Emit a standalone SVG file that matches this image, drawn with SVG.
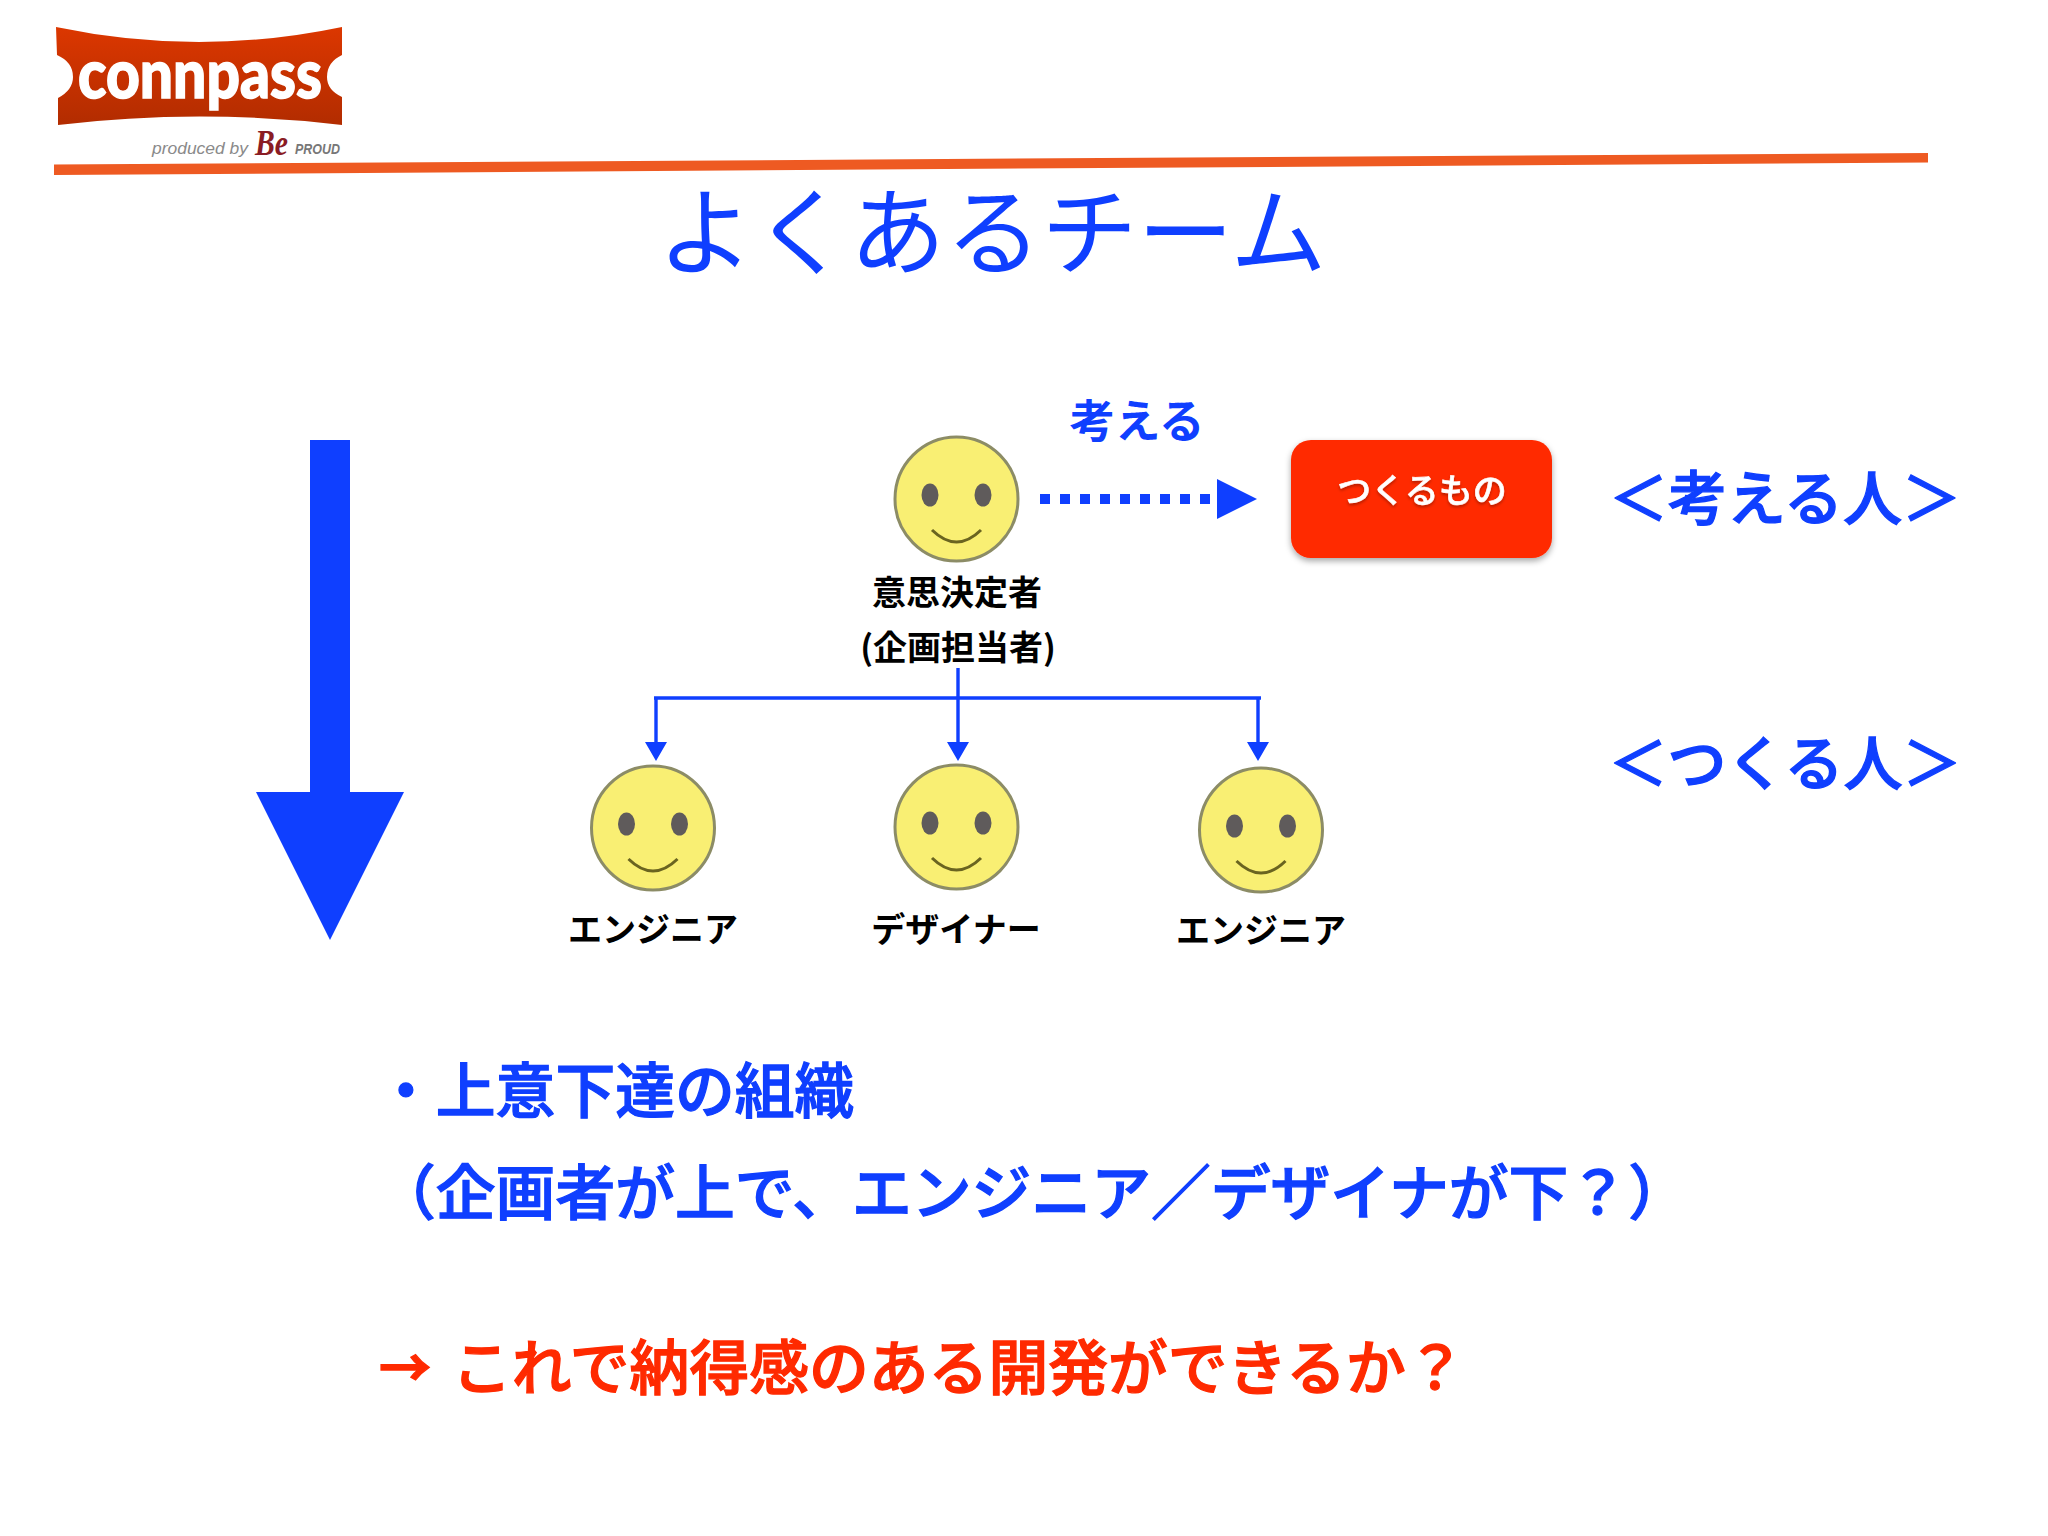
<svg xmlns="http://www.w3.org/2000/svg" width="2048" height="1536" viewBox="0 0 2048 1536">
<style>
text{font-family:"Noto Sans CJK JP","Liberation Sans",sans-serif}
.b{fill:#0f3fff}
.lab{fill:#000;font-size:34px;font-weight:700;text-anchor:middle}
.head{font-size:59.8px;font-weight:500;stroke-width:1.3px}
.bs{stroke:#0f3fff}
.rs{stroke:#ff2a00}
.side{font-size:59px;font-weight:500;text-anchor:middle;stroke-width:1.3px}
.wire{fill:none;stroke:#0f3fff;stroke-width:3.4}
</style>
<defs>
<linearGradient id="lg" x1="0" y1="0" x2="0" y2="1"><stop offset="0" stop-color="#dc3700"/><stop offset="1" stop-color="#b22c00"/></linearGradient>
<filter id="sh" x="-10%" y="-10%" width="120%" height="125%"><feDropShadow dx="0" dy="3" stdDeviation="3" flood-color="#000" flood-opacity=".35"/></filter>
<filter id="ts" x="-10%" y="-20%" width="120%" height="140%"><feDropShadow dx="0" dy="2" stdDeviation="1.5" flood-color="#000" flood-opacity=".3"/></filter>
<g id="face">
<ellipse cx="0" cy="0" rx="61.5" ry="62" fill="#f9ef73" stroke="#8c8c66" stroke-width="3"/>
<ellipse cx="-26.5" cy="-4" rx="8.5" ry="11.5" fill="#5f5b5b"/>
<ellipse cx="26.5" cy="-4" rx="8.5" ry="11.5" fill="#5f5b5b"/>
<path d="M-24.5 31Q0 55 24.5 31" fill="none" stroke="#6a6420" stroke-width="3"/>
</g>
</defs>
<rect width="2048" height="1536" fill="#fff"/>
<g id="logo">
<path d="M56 27Q199 57 342 27L342 55Q327 62 327 77Q327 90 342 97L342 125Q199 108 58 125L58 98Q73 90 73 77Q73 62 57 55Z" fill="url(#lg)"/>
<text x="78" y="98" font-size="68" font-weight="900" fill="#fff" stroke="#fff" stroke-width="1.5" textLength="244" lengthAdjust="spacingAndGlyphs" style="font-family:Lato,'Liberation Sans',sans-serif">connpass</text>
<text x="152" y="154" font-size="17" font-style="italic" fill="#8a8a8a" textLength="96" lengthAdjust="spacingAndGlyphs" style="font-family:'Liberation Sans',sans-serif">produced by</text>
<text x="295" y="154" font-size="14" font-style="italic" font-weight="700" fill="#777" textLength="45" lengthAdjust="spacingAndGlyphs" style="font-family:'Liberation Sans',sans-serif">PROUD</text>
</g>
<path id="rule" d="M54 164.500L1928 153L1928 162.500L54 175Z" fill="#ee5a22"/>
<text x="255" y="155" font-size="36" font-style="italic" font-weight="700" fill="#8a1c24" textLength="33" lengthAdjust="spacingAndGlyphs" style="font-family:'Liberation Serif',serif">Be</text>
<text id="title" class="b" x="992" y="267" font-size="96" font-weight="400" text-anchor="middle">よくあるチーム</text>
<path id="hierarchy-arrow" class="b" d="M310 440H350V792H404L330 940L256 792H310Z"/>
<g id="connectors">
<path d="M1040 499H1211" fill="none" stroke="#0f3fff" stroke-width="10" stroke-dasharray="10 10"/>
<path d="M1217 479L1257 499L1217 519Z" class="b"/>
<path class="wire" d="M958 668V745M654 698H1261M656 698V745M1258 698V745"/>
<path class="b" d="M947 742H969L958 761ZM645 742H667L656 761ZM1247 742H1269L1258 761Z"/>
</g>
<text id="think-label" class="b" x="1137" y="438" font-size="45.500" font-weight="700" text-anchor="middle">考える</text>
<g id="decider">
<use href="#face" x="956.500" y="499"/>
<text class="lab" x="957" y="605">意思決定者</text>
<text class="lab" x="958" y="660">(企画担当者)</text>
</g>
<g id="product">
<rect x="1291" y="440" width="261" height="118" rx="20" fill="#ff2a00" filter="url(#sh)"/>
<text x="1422" y="503" font-size="34" font-weight="500" fill="#fff" stroke="#fff" stroke-width=".6" text-anchor="middle" filter="url(#ts)">つくるもの</text>
</g>
<g id="engineer-1">
<use href="#face" x="653" y="828"/>
<text class="lab" x="653" y="942">エンジニア</text>
</g>
<g id="designer">
<use href="#face" x="956.500" y="827"/>
<text class="lab" x="956" y="942">デザイナー</text>
</g>
<g id="engineer-2">
<use href="#face" x="1261" y="830"/>
<text class="lab" x="1261" y="943">エンジニア</text>
</g>
<text id="side-thinkers" class="b bs side" x="1785" y="520">＜考える人＞</text>
<text id="side-makers" class="b bs side" x="1785" y="785">＜つくる人＞</text>
<text id="line-1" class="b bs head" x="376" y="1113">・上意下達の組織</text>
<text id="line-2" class="b bs head" x="376" y="1215">（企画者が上で、エンジニア／デザイナが下？）</text>
<text id="line-3" class="head rs" fill="#ff2a00"><tspan x="379" y="1387" font-size="52" font-weight="700">→</tspan><tspan x="452" y="1390">これで納得感のある開発ができるか？</tspan></text>
</svg>
